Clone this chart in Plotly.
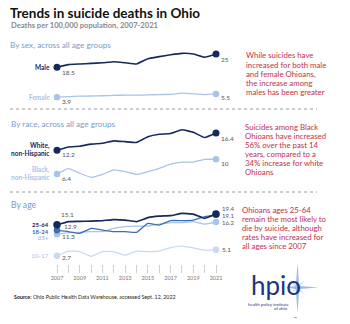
import plotly.graph_objects as go

W, H = 350, 324
FONT = "Lato"

years = list(range(2007, 2022))
tick_labels = [str(y) if (y - 2007) % 2 == 0 else "" for y in years]

# By sex
male = [18.5, 19.8, 20.1, 20.4, 20.7, 21.2, 20.7, 20.1, 22.7, 23.7, 24.6, 25.3, 25.0, 23.4, 25.0]
female = [3.9, 4.2, 4.4, 4.5, 4.6, 4.8, 4.9, 4.9, 5.0, 5.2, 5.3, 5.9, 5.5, 5.2, 5.5]
# By race
white_nh = [12.2, 13.0, 13.2, 13.7, 13.9, 14.5, 14.3, 14.1, 15.5, 16.1, 16.3, 17.2, 16.6, 15.3, 16.4]
black_nh = [6.4, 7.8, 6.6, 5.6, 6.3, 7.4, 7.0, 6.3, 7.0, 7.8, 8.8, 9.3, 9.3, 10.0, 10.0]
# By age
age_25_64 = [15.1, 16.4, 16.5, 16.6, 16.8, 17.2, 17.0, 16.4, 18.0, 18.6, 18.8, 19.7, 19.4, 17.7, 19.4]
age_18_24 = [12.9, 12.4, 11.7, 13.7, 13.0, 12.4, 12.4, 12.1, 15.7, 15.0, 16.8, 16.8, 17.0, 18.4, 19.1]
age_65p = [11.3, 12.0, 12.1, 12.4, 12.4, 13.7, 14.4, 14.6, 14.6, 15.4, 16.0, 16.0, 16.4, 15.4, 16.2]
age_10_17 = [2.7, 4.6, 4.4, 2.5, 4.4, 4.4, 3.0, 4.6, 4.4, 4.6, 6.0, 6.6, 5.9, 5.0, 5.1]

sex_note = ["While suicides have", "increased for both male", "and female Ohioans,",
            "the increase among", "males has been greater"]
race_note = ["Suicides among Black", "Ohioans have increased", "56% over the past 14",
             "years, compared to a", "34% increase for white", "Ohioans"]
age_note = ["Ohioans ages 25-64", "remain the most likely to", "die by suicide, although",
            "rates have increased for", "all ages since 2007"]

NAVY = "#16295c"
MID = "#3f6eb0"
LIGHT = "#a8c4ea"
LIGHTEST = "#c8d9f1"
HEAD = "#7a9cc5"
RED = "#c0304d"
GRAY = "#555555"

fig = go.Figure()

def series(vals, yax, color, width, msize):
    fig.add_trace(go.Scatter(x=years, y=vals, mode="lines", yaxis=yax,
                             line=dict(color=color, width=width, shape="spline", smoothing=0.3),
                             hoverinfo="skip", showlegend=False))
    fig.add_trace(go.Scatter(x=[years[0], years[-1]], y=[vals[0], vals[-1]], mode="markers",
                             yaxis=yax, marker=dict(color=color, size=msize),
                             hoverinfo="skip", showlegend=False))

series(female, "y", LIGHT, 1.3, 6.5)
series(male, "y", NAVY, 1.6, 7)
series(black_nh, "y2", LIGHT, 1.3, 6.5)
series(white_nh, "y2", NAVY, 1.6, 7)
series(age_10_17, "y3", LIGHTEST, 1.3, 6.5)
series(age_65p, "y3", LIGHT, 1.3, 6.5)
series(age_18_24, "y3", MID, 1.3, 6.5)
series(age_25_64, "y3", NAVY, 1.6, 7.5)

ann = []

def note(text, x, y, size, color, anchor="left", bold=False):
    if bold:
        text = "<b>" + text + "</b>"
    ann.append(dict(text=text, x=x / W, y=1 - y / H, xref="paper", yref="paper",
                    xanchor=anchor, yanchor="middle", showarrow=False, borderpad=0,
                    font=dict(size=size, color=color, family=FONT)))

def dlabel(text, xval, yval, yref, xshift, yshift, color, size=7, anchor="left", bold=False):
    if bold:
        text = "<b>" + text + "</b>"
    ann.append(dict(text=text, x=xval, y=yval, xref="x", yref=yref, xanchor=anchor,
                    yanchor="middle", xshift=xshift, yshift=yshift, showarrow=False,
                    borderpad=0, font=dict(size=size, color=color, family=FONT)))

# Titles
note("<b>Trends in suicide deaths in Ohio</b>", 9, 13, 13.5, "#111111")
note("<b>Deaths per 100,000 population, 2007-2021</b>", 10, 24.5, 7.6, "#8a8a8a")
note("By sex, across all age groups", 9, 45, 8.2, HEAD)
note("By race, across all age groups", 10, 124, 8.2, HEAD)
note("By age", 10, 205, 8.6, HEAD)

# Sex labels
dlabel("Male", years[0], male[0], "y", -6, 0, NAVY, 6.5, "right", True)
dlabel("Female", years[0], female[0], "y", -6, 0, LIGHT, 6.5, "right", True)
dlabel(f"{male[0]}", years[0], male[0], "y", 4, -5, GRAY, 6.5)
dlabel(f"{female[0]}", years[0], female[0], "y", 4, -4, GRAY, 6.5)
dlabel(f"{male[-1]:g}", years[-1], male[-1], "y", 4, -6, GRAY, 6.5)
dlabel(f"{female[-1]}", years[-1], female[-1], "y", 4, -4, GRAY, 6.5)

# Race labels
dlabel("White,", years[0], white_nh[0], "y2", -6, 4.5, NAVY, 6.5, "right", True)
dlabel("non-Hispanic", years[0], white_nh[0], "y2", -6, -3, NAVY, 6.5, "right", True)
dlabel("Black,", years[0], black_nh[0], "y2", -6, 4.5, LIGHT, 6.5, "right", True)
dlabel("non-Hispanic", years[0], black_nh[0], "y2", -6, -3, LIGHT, 6.5, "right", True)
dlabel(f"{white_nh[0]}", years[0], white_nh[0], "y2", 4, -4, GRAY, 6.5)
dlabel(f"{black_nh[0]}", years[0], black_nh[0], "y2", 4, -4, GRAY, 6.5)
dlabel(f"{white_nh[-1]}", years[-1], white_nh[-1], "y2", 4, -5, GRAY, 6.5)
dlabel(f"{black_nh[-1]:g}", years[-1], black_nh[-1], "y2", 4, -4, GRAY, 6.5)

# Age labels
dlabel("25-64", years[0], age_25_64[0], "y3", -7, 0.5, NAVY, 6, "right", True)
dlabel("18-24", years[0], age_18_24[0], "y3", -7, -0.8, MID, 6, "right", True)
dlabel("65+", years[0], age_65p[0], "y3", -7, -2.8, LIGHT, 6, "right", True)
dlabel("10-17", years[0], age_10_17[0], "y3", -7, 0, LIGHT, 6.5, "right")
dlabel(f"{age_25_64[0]}", years[0], age_25_64[0], "y3", 3, 10, GRAY, 6.5)
dlabel(f"{age_18_24[0]}", years[0], age_18_24[0], "y3", 6, 4, GRAY, 6.5)
dlabel(f"{age_65p[0]}", years[0], age_65p[0], "y3", 4, -2.5, GRAY, 6.5)
dlabel(f"{age_10_17[0]}", years[0], age_10_17[0], "y3", 4, -2, GRAY, 6.5)
dlabel(f"{age_25_64[-1]}", years[-1], age_25_64[-1], "y3", 5, 6, GRAY, 6)
dlabel(f"{age_18_24[-1]}", years[-1], age_18_24[-1], "y3", 5, -0.5, GRAY, 6)
dlabel(f"{age_65p[-1]}", years[-1], age_65p[-1], "y3", 5, -0.5, GRAY, 6)
dlabel(f"{age_10_17[-1]}", years[-1], age_10_17[-1], "y3", 5, 0, GRAY, 6.5)

# Commentary
for i, line in enumerate(sex_note):
    note(line, 245, 55.5 + i * 9.0, 7.8, RED)
for i, line in enumerate(race_note):
    note(line, 244, 126.7 + i * 9.07, 7.8, RED)
for i, line in enumerate(age_note):
    note(line, 241, 210 + i * 9.07, 7.8, RED)

# Source
note("<b>Source:</b> Ohio Public Health Data Warehouse, accessed Sept. 12, 2022", 13, 297, 5.3, "#222222")

# Logo
LOGO = "#1f3580"
STAR = "#8db2e2"
cx, cy = 297.5, 287.5
def P(x, y):
    return f"{x / W:.5f},{1 - y / H:.5f}"
star = ("M " + P(cx, cy - 25) + " L " + P(cx + 1.6, cy - 1.6) + " L " + P(cx + 21, cy) +
        " L " + P(cx + 1.6, cy + 1.6) + " L " + P(cx, cy + 26) + " L " + P(cx - 1.6, cy + 1.6) +
        " L " + P(cx - 12, cy) + " L " + P(cx - 1.6, cy - 1.6) + " Z")
star2 = ("M " + P(cx - 7, cy - 7) + " L " + P(cx, cy - 1.2) + " L " + P(cx + 7, cy - 7) +
         " L " + P(cx + 1.2, cy) + " L " + P(cx + 7, cy + 7) + " L " + P(cx, cy + 1.2) +
         " L " + P(cx - 7, cy + 7) + " L " + P(cx - 1.2, cy) + " Z")
shapes = [
    dict(type="line", xref="paper", yref="paper", x0=10 / W, x1=317 / W,
         y0=1 - 109 / H, y1=1 - 109 / H, line=dict(color="#9a9a9a", width=1, dash="dot")),
    dict(type="line", xref="paper", yref="paper", x0=10 / W, x1=317 / W,
         y0=1 - 192 / H, y1=1 - 192 / H, line=dict(color="#9a9a9a", width=1, dash="dot")),
    dict(type="path", xref="paper", yref="paper", path=star, fillcolor=STAR,
         line=dict(width=0), opacity=0.9),
    dict(type="path", xref="paper", yref="paper", path=star2, fillcolor=STAR,
         line=dict(width=0), opacity=0.6),
]
note("hpio", 250, 285, 26, LOGO)
note("health policy institute", 290, 304, 4.3, LOGO, anchor="right")
note("of ohio", 289, 308, 4.3, LOGO, anchor="right")
note("™", 293, 318, 4, LOGO)

# Axis geometry: map pixel positions to data
x0px, x1px = 57, 216
ppy = (x1px - x0px) / (years[-1] - years[0])
xrange = [years[0] - x0px / ppy, years[0] + (W - x0px) / ppy]

def yr(a, b):
    # a: pixel where value 0 sits, b: pixels per unit
    return [(a - H) / b, a / b]

fig.update_layout(
    width=W, height=H, margin=dict(l=0, r=0, t=0, b=0),
    paper_bgcolor="white", plot_bgcolor="white",
    xaxis=dict(range=xrange, domain=[0, 1], anchor="free", position=1 - 264 / H,
               tickvals=years, ticktext=tick_labels, ticks="outside", ticklen=8,
               tickcolor="#d0d0d0", tickwidth=1, showgrid=False, zeroline=False,
               showline=False, tickfont=dict(size=5.5, color="#777777", family=FONT)),
    yaxis=dict(range=yr(105.2, 2.05), domain=[0, 1], visible=False),
    yaxis2=dict(range=yr(200.3, 4.1), domain=[0, 1], overlaying="y", visible=False),
    yaxis3=dict(range=yr(262.6, 2.5), domain=[0, 1], overlaying="y", visible=False),
    annotations=ann, shapes=shapes, showlegend=False,
)

fig.write_html("out.html")
